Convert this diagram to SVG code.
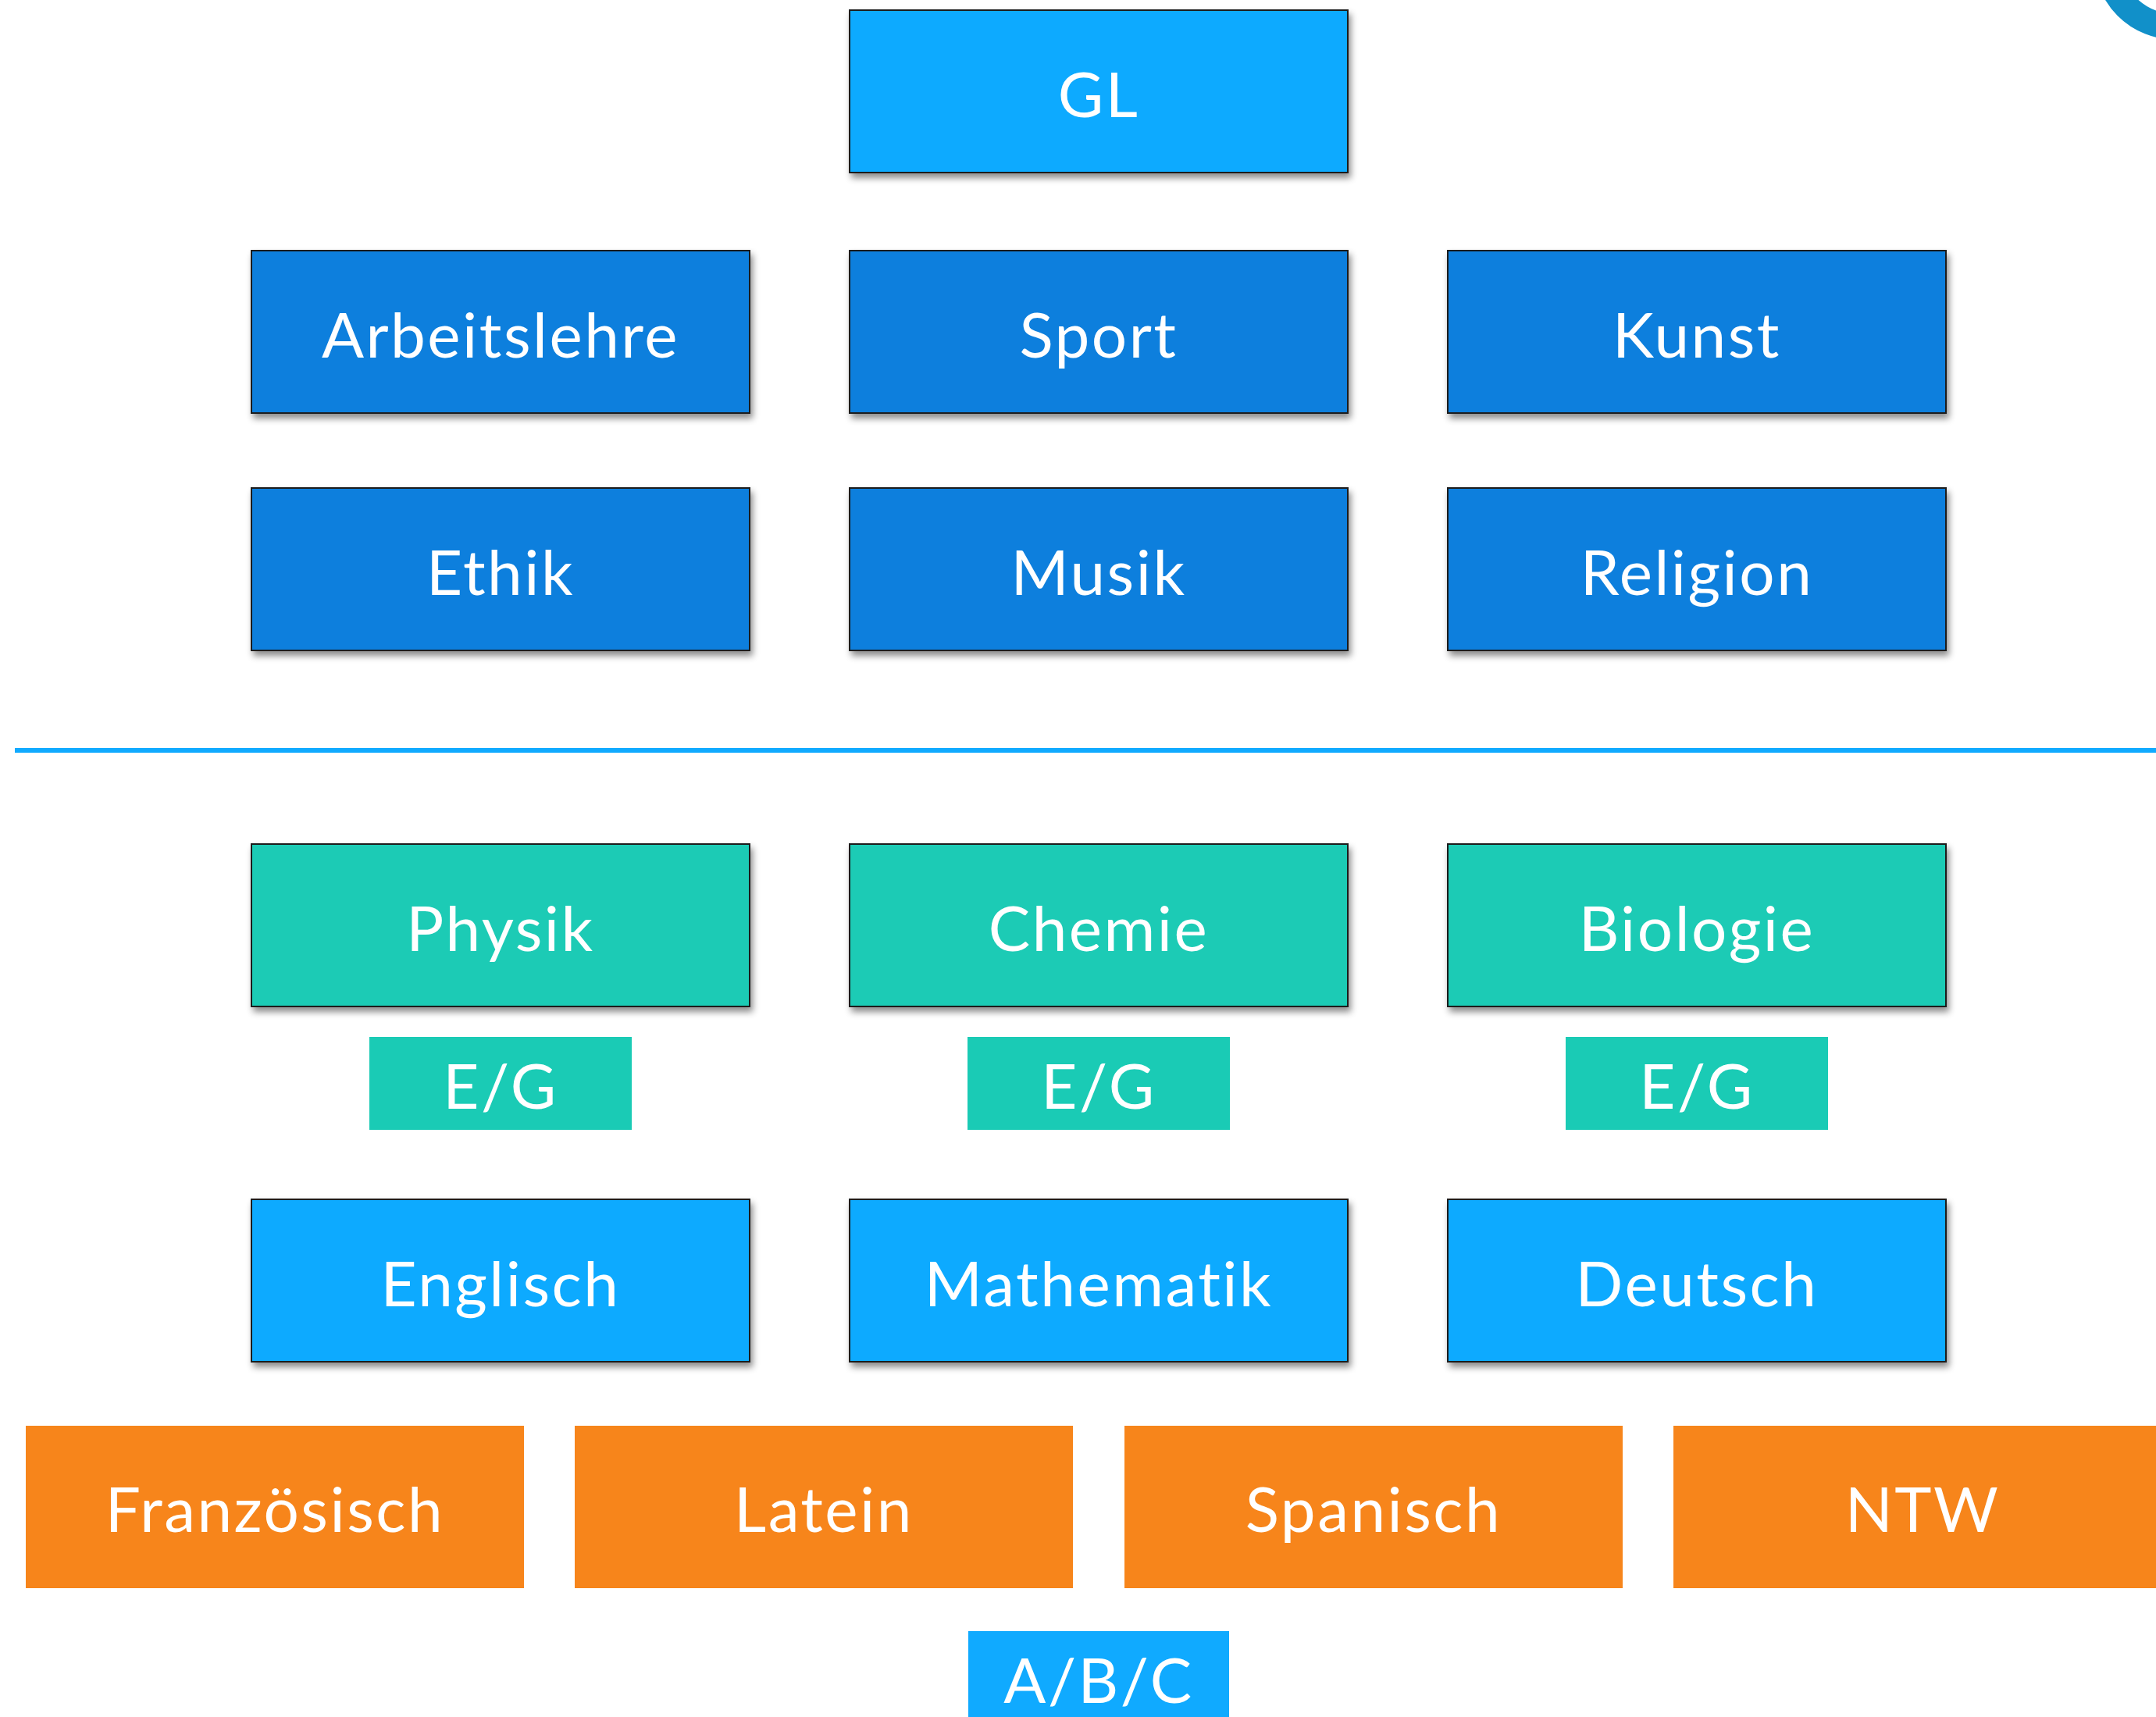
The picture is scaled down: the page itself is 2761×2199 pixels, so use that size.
<svg xmlns="http://www.w3.org/2000/svg" width="2761" height="2199" viewBox="0 0 2761 2199">
<defs>
<filter id="sh" x="-5%" y="-10%" width="115%" height="130%">
<feDropShadow dx="3" dy="6" stdDeviation="4" flood-color="#000" flood-opacity="0.45"/>
</filter>
<style>
.t{font-family:Lato,"Open Sans","Liberation Sans",sans-serif;font-size:80px;font-weight:400;letter-spacing:2.5px;font-variant-ligatures:none;fill:#fff;text-anchor:middle}
.box{stroke:#1a1a1a;stroke-width:2;filter:url(#sh)}
.lb{fill:#10aaff}
.db{fill:#0d7fdd}
.gr{fill:#1acbb5}
.or{fill:#f7851b}
</style>
</defs>
<rect width="2761" height="2199" fill="#fff"/>
<circle cx="2785" cy="-53" r="87" fill="none" stroke="#1190c9" stroke-width="33"/>
<g id="connectors">
<rect x="19" y="958" width="2742" height="6" fill="#10aaff"/>
</g>
<g id="gl"><rect class="box lb" x="1088" y="13" width="638" height="208"/><text class="t" x="1407" y="150">GL</text></g>
<g id="arbeitslehre"><rect class="box db" x="322" y="321" width="638" height="208"/><text class="t" x="641" y="458">Arbeitslehre</text></g>
<g id="sport"><rect class="box db" x="1088" y="321" width="638" height="208"/><text class="t" x="1407" y="458">Sport</text></g>
<g id="kunst"><rect class="box db" x="1854" y="321" width="638" height="208"/><text class="t" x="2173" y="458">Kunst</text></g>
<g id="ethik"><rect class="box db" x="322" y="625" width="638" height="208"/><text class="t" x="641" y="762">Ethik</text></g>
<g id="musik"><rect class="box db" x="1088" y="625" width="638" height="208"/><text class="t" x="1407" y="762">Musik</text></g>
<g id="religion"><rect class="box db" x="1854" y="625" width="638" height="208"/><text class="t" x="2173" y="762">Religion</text></g>
<g id="physik"><rect class="box gr" x="322" y="1081" width="638" height="208"/><text class="t" x="641" y="1218">Physik</text></g>
<g id="chemie"><rect class="box gr" x="1088" y="1081" width="638" height="208"/><text class="t" x="1407" y="1218">Chemie</text></g>
<g id="biologie"><rect class="box gr" x="1854" y="1081" width="638" height="208"/><text class="t" x="2173" y="1218">Biologie</text></g>
<g id="eg1"><rect class="gr" x="473" y="1328" width="336" height="119"/><text class="t" x="641" y="1420">E/G</text></g>
<g id="eg2"><rect class="gr" x="1239" y="1328" width="336" height="119"/><text class="t" x="1407" y="1420">E/G</text></g>
<g id="eg3"><rect class="gr" x="2005" y="1328" width="336" height="119"/><text class="t" x="2173" y="1420">E/G</text></g>
<g id="englisch"><rect class="box lb" x="322" y="1536" width="638" height="208"/><text class="t" x="641" y="1673">Englisch</text></g>
<g id="mathematik"><rect class="box lb" x="1088" y="1536" width="638" height="208"/><text class="t" x="1407" y="1673">Mathematik</text></g>
<g id="deutsch"><rect class="box lb" x="1854" y="1536" width="638" height="208"/><text class="t" x="2173" y="1673">Deutsch</text></g>
<g id="franzoesisch"><rect class="or" x="33" y="1826" width="638" height="208"/><text class="t" x="352" y="1962">Französisch</text></g>
<g id="latein"><rect class="or" x="736" y="1826" width="638" height="208"/><text class="t" x="1055" y="1962">Latein</text></g>
<g id="spanisch"><rect class="or" x="1440" y="1826" width="638" height="208"/><text class="t" x="1759" y="1962">Spanisch</text></g>
<g id="ntw"><rect class="or" x="2143" y="1826" width="638" height="208"/><text class="t" x="2462" y="1962">NTW</text></g>
<g id="abc"><rect class="lb" x="1240" y="2089" width="334" height="130"/><text class="t" x="1407" y="2181">A/B/C</text></g>
</svg>
